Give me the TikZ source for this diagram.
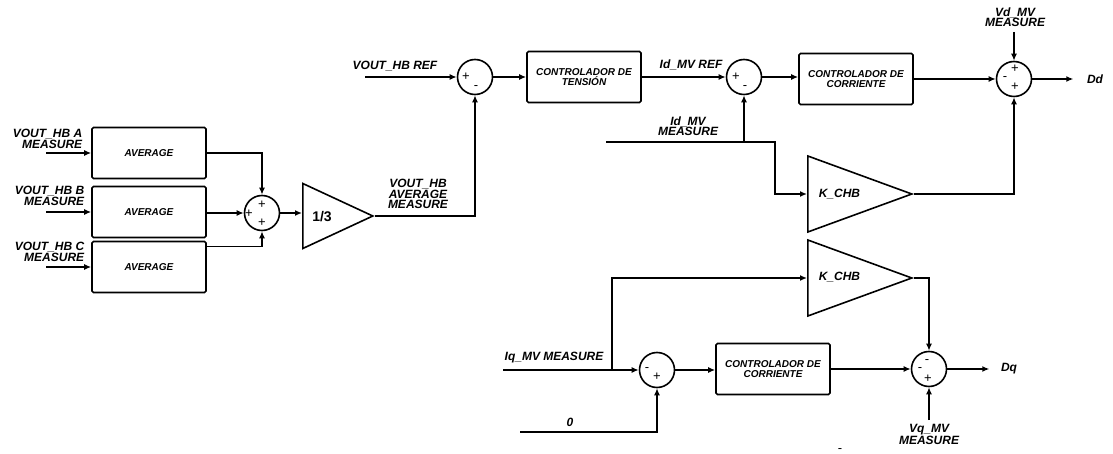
\documentclass[tikz,border=0pt]{standalone}
\usepackage{fontspec}
\setmainfont{Liberation Sans}
\usetikzlibrary{arrows.meta,shapes.geometric,positioning,calc}

\begin{document}
\begin{tikzpicture}[x=1pt, y=-1pt, line width=1.6pt, >={Latex[length=7pt,width=6pt]},
  every node/.style={font=\bfseries\itshape\fontsize{12}{10.5}\selectfont},
  block/.style={draw, rectangle, rounded corners=1.5pt, minimum width=114pt, minimum height=51pt,
    inner sep=2pt, align=center, font=\bfseries\itshape\fontsize{10}{10}\selectfont},
  sumnode/.style={draw, circle, minimum size=35pt, inner sep=0pt},
  gain/.style={draw, isosceles triangle, isosceles triangle stretches, inner sep=0pt, anchor=lower side},
  sign/.style={font=\fontsize{13}{13}\selectfont, inner sep=0pt},
  lbl/.style={align=center, inner sep=0pt}]
  \useasboundingbox (0,0) rectangle (1113,454);

  % Average blocks
  \node[block] (avgA) at (149,153) {AVERAGE};
  \node[block] (avgB) at (149,212) {AVERAGE};
  \node[block] (avgC) at (149,267) {AVERAGE};
  \coordinate (inA) at (46,153);
  \coordinate (inB) at (46,212);
  \coordinate (inC) at (46,267);
  \node[lbl, align=right, anchor=east] (labA) at (83,139) {VOUT\_HB A\\MEASURE};
  \node[lbl, align=right, anchor=east] (labB) at (85,196) {VOUT\_HB B\\MEASURE};
  \node[lbl, align=right, anchor=east] (labC) at (85,252) {VOUT\_HB C\\MEASURE};
  \draw[->] (inA) -- (avgA);
  \draw[->] (inB) -- (avgB);
  \draw[->] (inC) -- (avgC);

  % Sum of the three averages
  \node[sumnode] (s1) at (262,213) {};
  \node[sign] at ($(s1)+(-13,1)$) {+};
  \node[sign] at ($(s1)+(0,-8)$) {+};
  \node[sign] at ($(s1)+(0,10)$) {+};
  \draw[->] (avgA.east) -| (s1.north);
  \draw[->] (avgB.east |- s1.west) -- (s1.west);
  \draw[->] ($(avgC.north east)+(0,6)$) -| (s1.south);

  % Gain 1/3
  \node[gain, minimum height=70pt, minimum width=65pt] (g1) at (302,216) {};
  \node[inner sep=0pt, font=\bfseries\fontsize{14}{14}\selectfont] (g1txt) at (322,217) {1/3};
  \draw[->] (s1.east) -- (s1.east -| g1.lower side);

  % Voltage loop
  \node[sumnode] (s2) at (475,77) {};
  \node[sign] at ($(s2)+(-9,0)$) {+};
  \node[sign] at ($(s2)+(1,11)$) {-};
  \coordinate (vref) at (365,77);
  \node[lbl] (labVref) at (395,66) {VOUT\_HB REF};
  \draw[->] (vref) -- (s2.west);
  \draw[->] (g1.apex) -| (s2.south);
  \node[lbl] (labVavg) at (418,194) {VOUT\_HB\\AVERAGE\\MEASURE};

  \node[block] (ctrlV) at (584,77) {CONTROLADOR DE\\TENSIÓN};
  \draw[->] (s2.east) -- (ctrlV.west);

  % d-axis current loop
  \node[sumnode] (s3) at (744,77) {};
  \node[sign] at ($(s3)+(-8,0)$) {+};
  \node[sign] at ($(s3)+(1,11)$) {-};
  \draw[->] (ctrlV.east) -- (s3.west);
  \node[lbl] (labIdref) at (691,65) {Id\_MV REF};

  \coordinate (idm) at (606,142);
  \coordinate (idmBr) at (744,142);
  \coordinate (idmCorner) at (775,142);
  \node[lbl] (labIdm) at (688,126) {Id\_MV\\MEASURE};
  \draw[->] (idmBr) -- (s3.south);

  \node[block] (ctrlI1) at (856,79) {CONTROLADOR DE\\CORRIENTE};
  \draw[->] (s3.east) -- (s3.east -| ctrlI1.west);

  \node[gain, minimum height=104pt, minimum width=76pt] (k1) at (807,194) {};
  \node[inner sep=0pt, anchor=west] (k1txt) at (818,194) {K\_CHB};
  \draw[->] (idm) -- (idmCorner) |- (k1.lower side);

  \node[sumnode] (s4) at (1014,79) {};
  \node[sign] at ($(s4)+(1,-10)$) {+};
  \node[sign] at ($(s4)+(-9,0)$) {-};
  \node[sign] at ($(s4)+(1,8)$) {+};
  \draw[->] (ctrlI1.east) -- (s4.west);
  \draw[->] (k1.apex) -| (s4.south);
  \coordinate (vd) at (1014,32);
  \node[lbl] (labVd) at (1015,17) {Vd\_MV\\MEASURE};
  \draw[->] (vd) -- (s4.north);
  \node[inner sep=0pt] (dd) at (1095,79) {Dd};
  \draw[->] (s4.east) -- ++(41,0);

  % q-axis current loop
  \node[gain, minimum height=104pt, minimum width=76pt] (k2) at (807,278) {};
  \node[inner sep=0pt, anchor=west] (k2txt) at (818,277) {K\_CHB};

  \node[sumnode] (s5) at (657,370) {};
  \node[sign] at ($(s5)+(-10,0)$) {-};
  \node[sign] at ($(s5)+(0,7)$) {+};
  \coordinate (iqm) at (503,370);
  \coordinate (iqmBr) at (612,370);
  \node[lbl] (labIqm) at (554,358) {Iq\_MV MEASURE};
  \draw[->] (iqm) -- (s5.west);
  \draw[->] (iqmBr) |- (k2.lower side);

  \coordinate (zero) at (520,432);
  \node[lbl] (labZero) at (570,422) {0};
  \draw[->] (zero) -| (s5.south);

  \node[block] (ctrlI2) at (773,369) {CONTROLADOR DE\\CORRIENTE};
  \draw[->] (s5.east) -- (s5.east -| ctrlI2.west);

  \node[sumnode] (s6) at (929,369) {};
  \node[sign] at ($(s6)+(-2,-7)$) {-};
  \node[sign] at ($(s6)+(-9,1)$) {-};
  \node[sign] at ($(s6)+(-1,10)$) {+};
  \draw[->] (ctrlI2.east) -- (s6.west);
  \draw[->] (k2.apex) -| (s6.north);
  \coordinate (vq) at (929,420);
  \node[lbl] (labVq) at (929,434) {Vq\_MV\\MEASURE};
  \draw[->] (vq) -- (s6.south);
  \node[inner sep=0pt] (dq) at (1009,369) {Dq};
  \draw[->] (s6.east) -- ++(42,0);

  \node[sign] (stray) at (840,451) {-};
\end{tikzpicture}
\end{document}
